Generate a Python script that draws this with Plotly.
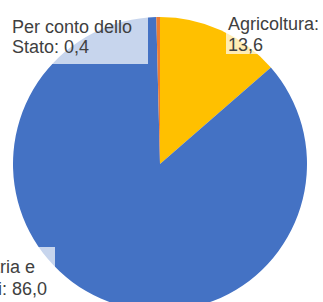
import plotly.graph_objects as go

# Data
categories = ["Agricoltura", "Industria e servizi", "Per conto dello Stato"]
values = [13.6, 86.0, 0.4]
label_lines = [["Agricoltura:", "13,6"],
               ["Industria e", "servizi: 86,0"],
               ["Per conto dello", "Stato: 0,4"]]
colors = ["#FFC000", "#4472C4", "#ED7D31"]

W, H = 323, 312
CX, CY, R = 160, 164, 147

def px(x):
    return x / W

def py(y):
    return 1 - y / H

fig = go.Figure(go.Pie(
    labels=categories, values=values, sort=False, direction="clockwise",
    rotation=0, textinfo="none", hoverinfo="skip", showlegend=False,
    marker=dict(colors=colors, line=dict(width=0)),
    domain=dict(x=[px(CX - R), px(CX + R)], y=[py(CY + R), py(CY - R)]),
))

# label boxes (pixel rects) and text positions: (x_left, [top of each line])
boxes = [(226, 10, 330, 54), (-60, 247, 55, 330), (2, 12, 148, 64)]
text_pos = [(226.5, [13, 33.7]), (-50, [256.4, 278]), (11.3, [16, 36])]

shapes = []
annotations = []
for (x0, y0, x1, y1), (tx, tops), lines in zip(boxes, text_pos, label_lines):
    shapes.append(dict(type="rect", xref="paper", yref="paper",
                       x0=px(x0), x1=px(x1), y0=py(y1), y1=py(y0),
                       fillcolor="rgba(255,255,255,0.7)", line=dict(width=0),
                       layer="above"))
    for line, top in zip(lines, tops):
        annotations.append(dict(text=line, xref="paper", yref="paper",
                                x=px(tx), y=py(top), xanchor="left", yanchor="top",
                                showarrow=False, borderpad=0,
                                font=dict(family="Arial, Liberation Sans", size=18,
                                          color="#404040")))

fig.update_layout(width=W, height=H, autosize=False,
                  margin=dict(l=0, r=0, t=0, b=0),
                  paper_bgcolor="white", plot_bgcolor="white",
                  shapes=shapes, annotations=annotations)

fig.write_html("out.html", config={"displayModeBar": False, "staticPlot": True},
               post_script="document.body.style.margin='0';"
                           "document.documentElement.style.overflow='hidden';")
